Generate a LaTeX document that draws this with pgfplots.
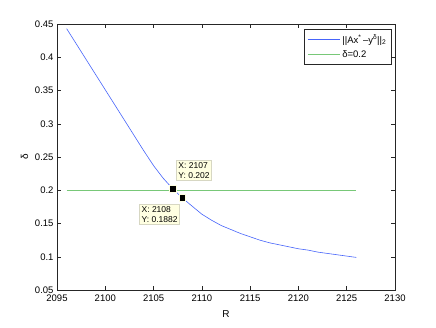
\documentclass[border=0pt]{standalone}
\usepackage{fontspec}
\setmainfont{Liberation Sans}
\usepackage{pgfplots}
\pgfplotsset{compat=1.18}

\definecolor{lineblue}{RGB}{70,100,250}
\definecolor{linegreen}{RGB}{120,200,120}
\definecolor{tipfill}{RGB}{255,255,225}
\definecolor{tipedge}{RGB}{215,215,195}

\tikzset{tip/.style={fill=tipfill, draw=tipedge, line width=0.6pt, align=left,
    font=\fontsize{8.5}{10}\selectfont, inner sep=2pt}}

\begin{document}
\begin{tikzpicture}
% page size fixed to the reference proportions
\path[use as bounding box] (-57pt,-37pt) rectangle (379pt,290pt);
\begin{axis}[
  scale only axis,
  width=338pt, height=266pt,
  xmin=2095, xmax=2130, ymin=0.05, ymax=0.45,
  xtick={2095,2100,2105,2110,2115,2120,2125,2130},
  ytick={0.05,0.1,0.15,0.2,0.25,0.3,0.35,0.4,0.45},
  tick align=inside,
  major tick length=4pt,
  axis line style={black!85, line width=0.5pt},
  tick style={black!85, line width=0.5pt},
  /pgf/number format/assume math mode=true,
  xticklabel style={/pgf/number format/1000 sep={}, yshift=-1pt},
  yticklabel style={/pgf/number format/fixed, /pgf/number format/precision=2},
  ticklabel style={font=\fontsize{9.5}{11}\selectfont},
  label style={font=\fontsize{10}{12}\selectfont},
  xlabel style={yshift=-2pt},
  xlabel={R}, ylabel={δ},
  legend style={at={(rel axis cs:0.99,0.98)}, anchor=north east,
    draw=black!85, line width=0.5pt, font=\fontsize{9.5}{11}\selectfont,
    row sep=2pt, inner sep=3pt},
  legend cell align=left,
  legend image code/.code={\draw[#1] (0pt,0pt) -- (32pt,0pt);},
]
\addplot[lineblue, line width=0.6pt] coordinates {
  (2096,0.443) (2097,0.420) (2098,0.397) (2099,0.374) (2100,0.351)
  (2101,0.328) (2102,0.305) (2103,0.282) (2104,0.259) (2105,0.237)
  (2106,0.218) (2107,0.202) (2108,0.1882) (2109,0.176) (2110,0.164)
  (2111,0.155) (2112,0.147) (2113,0.141) (2114,0.135) (2115,0.130)
  (2116,0.125) (2117,0.121) (2118,0.118) (2119,0.115) (2120,0.112)
  (2121,0.110) (2122,0.107) (2123,0.105) (2124,0.103) (2125,0.101)
  (2126,0.099)
};
\addlegendentry{||Ax\textsuperscript{*}\,–y\textsuperscript{δ}||\textsubscript{2}}
\addplot[linegreen, line width=0.9pt] coordinates {(2096,0.2) (2126,0.2)};
\addlegendentry{δ=0.2}
% data tips
\addplot[only marks, mark=square*, mark size=3.2pt,
  mark options={fill=black, draw=tipfill, line width=0.8pt}, forget plot]
  coordinates {(2107,0.202) (2108,0.1882)};
\node[tip, anchor=south west, xshift=3.3pt, yshift=8pt] at (axis cs:2107,0.202)
  {X: 2107\\Y: 0.202};
\node[tip, anchor=north east, xshift=-2.7pt, yshift=-5.7pt] at (axis cs:2108,0.1882)
  {X: 2108\\Y: 0.1882};
\end{axis}
\end{tikzpicture}
\end{document}
